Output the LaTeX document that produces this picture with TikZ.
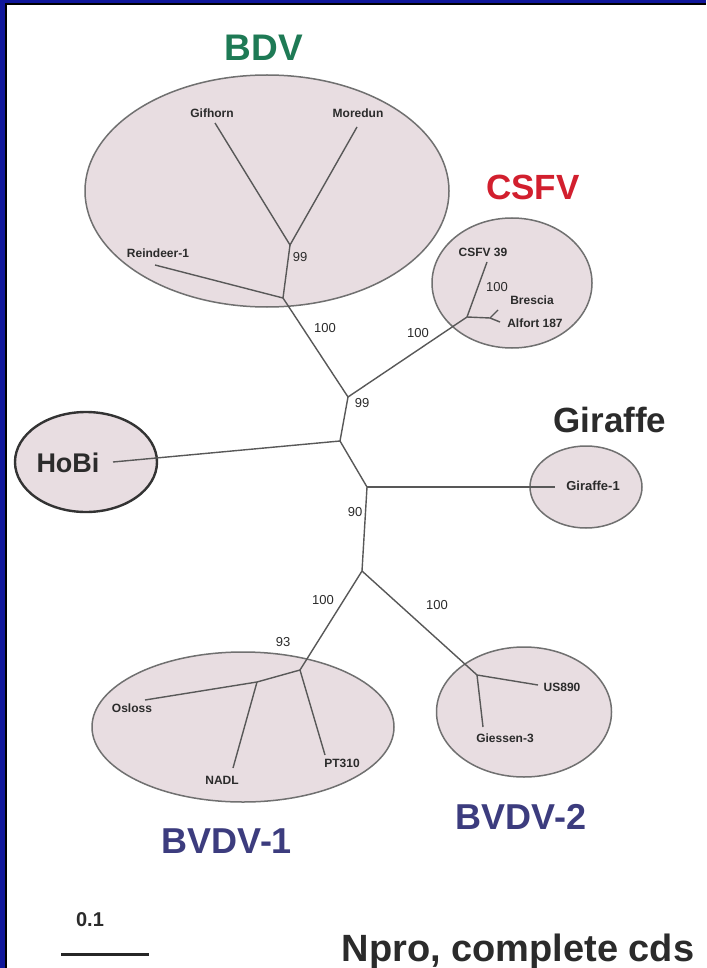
\documentclass[tikz,border=0pt]{standalone}
\usepackage{fontspec}
\setmainfont{Liberation Sans}
\usetikzlibrary{shapes.geometric}
\definecolor{slideblue}{HTML}{10179A}
\definecolor{cladefill}{HTML}{E8DDE1}
\definecolor{cladeline}{HTML}{707070}
\definecolor{treeline}{HTML}{585858}
\definecolor{bdvgreen}{HTML}{1E7A55}
\definecolor{csfvred}{HTML}{D21F2E}
\definecolor{bvdvblue}{HTML}{3C3C7E}
\definecolor{txt}{HTML}{2B2B2B}
\begin{document}
\begin{tikzpicture}[x=1pt,y=-1pt,
  clade/.style={ellipse, draw=cladeline, fill=cladefill, line width=1.5pt, inner sep=0pt},
  branch/.style={draw=treeline, line width=1.4pt},
  leaf/.style={font=\fontsize{12}{12}\selectfont\bfseries, text=txt, inner sep=0pt},
  boot/.style={font=\fontsize{13}{13}\selectfont, text=txt, inner sep=0pt},
  title/.style={font=\fontsize{37}{37}\selectfont\bfseries, inner sep=0pt},
]
% slide frame
\fill[slideblue] (0,0) rectangle (706,968);
\fill[black] (5,3) rectangle (706,968);
\fill[white] (7,5.5) rectangle (706,968);
\useasboundingbox (0,0) rectangle (706,968);

% clade ellipses
\node[clade, minimum width=364pt, minimum height=232pt] (eBDV) at (267,191) {};
\node[clade, minimum width=160pt, minimum height=130pt] (eCSFV) at (512,283) {};
\node[clade, draw=black!80, line width=2.4pt, minimum width=142pt, minimum height=100pt] (eHoBi) at (86,462) {};
\node[clade, minimum width=112pt, minimum height=82pt] (eGir) at (586,487) {};
\node[clade, minimum width=302pt, minimum height=150pt] (eBa) at (243,727) {};
\node[clade, minimum width=175pt, minimum height=130pt] (eBb) at (524,712) {};

% internal nodes
\coordinate (nA) at (290,245);
\coordinate (nB) at (283,298);
\coordinate (nC) at (348,397);
\coordinate (nD) at (340,441);
\coordinate (nE) at (367,487);
\coordinate (nF) at (362,571);
\coordinate (nG) at (300,670);
\coordinate (nI) at (257,682);
\coordinate (nJ) at (477,675);
\coordinate (nK) at (467,317);
\coordinate (nL) at (490,318);
% tips
\coordinate (tGif) at (215,123);
\coordinate (tMor) at (357,127);
\coordinate (tRei) at (155,265);
\coordinate (tHoBi) at (113,462);
\coordinate (tGir) at (555,487);
\coordinate (tOsl) at (145,700);
\coordinate (tNADL) at (233,768);
\coordinate (tPT) at (325,755);
\coordinate (tUS) at (538,685);
\coordinate (tGie) at (483,727);
\coordinate (tCSF) at (487,262);
\coordinate (tBre) at (498,310);
\coordinate (tAlf) at (500,322);

% branches
\draw[branch] (tGif) -- (nA) -- (tMor);
\draw[branch] (nA) -- (nB) -- (tRei);
\draw[branch] (nB) -- (nC) -- (nD) -- (nE) -- (nF);
\draw[branch] (nC) -- (nK) -- (tCSF);
\draw[branch] (nK) -- (nL) -- (tBre);
\draw[branch] (nL) -- (tAlf);
\draw[branch] (nD) -- (tHoBi);
\draw[branch] (nE) -- (tGir);
\draw[branch] (nF) -- (nG) -- (nI) -- (tOsl);
\draw[branch] (nI) -- (tNADL);
\draw[branch] (nG) -- (tPT);
\draw[branch] (nF) -- (nJ) -- (tUS);
\draw[branch] (nJ) -- (tGie);

% leaf labels
\node[leaf] (lGif) at (212,113) {Gifhorn};
\node[leaf] (lMor) at (358,113) {Moredun};
\node[leaf] (lRei) at (158,253) {Reindeer-1};
\node[leaf] (lCSF) at (483,252) {CSFV 39};
\node[leaf] (lBre) at (532,300) {Brescia};
\node[leaf] (lAlf) at (535,323) {Alfort 187};
\node[leaf, font=\fontsize{13}{13}\selectfont\bfseries] (lGir) at (593,486) {Giraffe-1};
\node[leaf] (lOsl) at (132,708) {Osloss};
\node[leaf] (lNADL) at (222,780) {NADL};
\node[leaf] (lPT) at (342,763) {PT310};
\node[leaf] (lUS) at (562,687) {US890};
\node[leaf] (lGie) at (505,738) {Giessen-3};

% bootstrap values
\node[boot] (b1) at (300,257) {99};
\node[boot] (b2) at (325,328) {100};
\node[boot] (b3) at (418,333) {100};
\node[boot] (b4) at (497,287) {100};
\node[boot] (b5) at (362,403) {99};
\node[boot] (b6) at (355,512) {90};
\node[boot] (b7) at (323,600) {100};
\node[boot] (b8) at (437,605) {100};
\node[boot] (b9) at (283,642) {93};

% group titles
\node[title, text=bdvgreen] (tiBDV) at (264,48) {BDV};
\node[title, text=csfvred, font=\fontsize{35}{35}\selectfont\bfseries] (tiCSFV) at (533,187) {CSFV};
\node[title, text=txt, font=\fontsize{35}{35}\selectfont\bfseries] (tiGir) at (610,420) {Giraffe};
\node[title, text=txt, font=\fontsize{27}{27}\selectfont\bfseries] (tiHoBi) at (68,463) {HoBi};
\node[title, text=bvdvblue, font=\fontsize{36}{36}\selectfont\bfseries] (tiBa) at (227,841) {BVDV-1};
\node[title, text=bvdvblue, font=\fontsize{36}{36}\selectfont\bfseries] (tiBb) at (521,817) {BVDV-2};

% scale bar and caption
\coordinate (sb1) at (61,954);
\coordinate (sb2) at (149,954);
\draw[line width=3pt, draw=black!85] (sb1) -- (sb2);
\node[title, text=txt, font=\fontsize{20}{20}\selectfont\bfseries] (sbl) at (90,920) {0.1};
\node[title, text=txt, font=\fontsize{38}{38}\selectfont\bfseries] (cap) at (518,952) {Npro, complete cds};
\end{tikzpicture}
\end{document}
